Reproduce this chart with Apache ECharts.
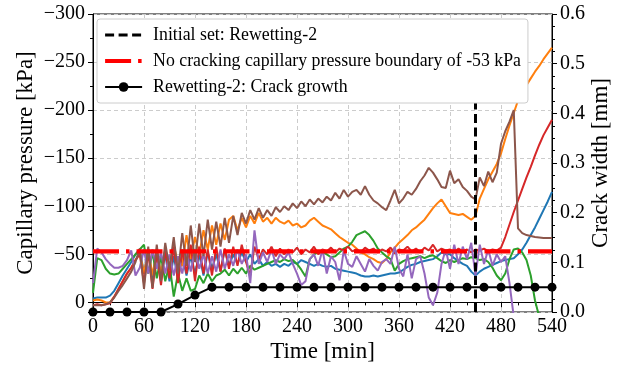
<!DOCTYPE html>
<html>
<head>
<meta charset="utf-8">
<script src="https://cdn.jsdelivr.net/npm/echarts@6/dist/echarts.min.js"></script>
<style>
  html, body { margin: 0; padding: 0; background: #fff; }
  #chart { width: 620px; height: 369px; }
</style>
</head>
<body>
<div id="chart"></div>
<script>
// sampling grid of the capillary pressure readings [min]
const timeMin = Array.from({ length: 109 }, (_, i) => i * 5)

// capillary pressure [kPa], one array per sensor (tab10 colour order)
const blue = [
  -4, -5, -5, -5, -7, -12, -20, -28, -35, -42,
  -50, -55, -30, -55, -25, -52, -28, -50, -22, -48,
  -25, -50, -28, -48, -30, -50, -28, -52, -35, -50,
  -32, -55, -38, -50, -40, -52, -42, -50, -40, -45,
  -38, -42, -38, -40, -37, -40, -38, -42, -40, -44,
  -42, -40, -38, -40, -38, -37, -38, -35, -34, -33,
  -32, -31, -30, -28, -27, -27, -28, -27, -28, -29,
  -30, -30, -31, -34, -37, -39, -40, -42, -43, -44,
  -45, -48, -52, -50, -50, -46, -43, -40, -38, -32,
  -28, -32, -35, -37, -39, -41, -43, -44, -45, -46,
  -50, -55, -62, -70, -78, -87, -96, -105, -115,
]
const orange = [
  -2, -3, -2, 0, 0, -6, -14, -22, -30, -36,
  -44, -52, -30, -55, -28, -55, -30, -56, -35, -60,
  -40, -38, -70, -45, -68, -50, -75, -55, -80, -60,
  -82, -65, -86, -90, -75, -88, -78, -90, -82, -93,
  -84, -88, -82, -88, -84, -82, -85, -80, -82, -78,
  -80, -85, -88, -84, -80, -78, -76, -72, -68, -65,
  -62, -60, -56, -52, -50, -47, -45, -42, -41, -45,
  -52, -57, -62, -66, -70, -75, -78, -82, -86, -92,
  -98, -103, -107, -100, -93, -92, -91, -92, -89, -86,
  -90, -108, -118, -128, -136, -144, -155, -170, -184, -197,
  -210, -218, -226, -233, -240, -246, -253, -259, -265,
]
const green = [
  -10, -46, -44, -35, -30, -29, -30, -35, -40, -45,
  -50, -55, -60, -30, -52, -25, -48, -22, -40, -6,
  -30, -12, -25, -12, -14, -28, -20, -30, -22, -28,
  -30, -34, -28, -35, -30, -36, -30, -38, -34, -36,
  -38, -40, -42, -44, -42, -45, -43, -44, -40, -34,
  -27, -45, -50, -52, -53, -50, -47, -48, -52, -56,
  -58, -63, -70, -72, -74, -70, -64, -56, -52, -48,
  -45, -33, -40, -43, -45, -46, -47, -48, -46, -48,
  -49, -46, -43, -41, -44, -42, -44, -46, -45, -47,
  -46, -44, -45, -42, -36, -28, -23, -30, -45, -55,
  -56, -52, -44, -28, -2, 15, null, null, null,
]
const red = [
  3, 2, 3, 2, 1, -6, -14, -22, -30, -36,
  -44, -50, -20, -52, -14, -50, -18, -55, -25, -58,
  -20, -55, -30, -60, -22, -58, -30, -55, -28, -58,
  -32, -56, -35, -58, -38, -60, -42, -28, -58, -45,
  -55, -50, -58, -48, -56, -50, -55, -52, -57, -50,
  -55, -52, -58, -50, -55, -53, -57, -52, -56, -54,
  -58, -53, -55, -52, -57, -54, -56, -52, -55, -53,
  -57, -51, -55, -54, -58, -53, -56, -52, -57, -54,
  -60, -53, -56, -54, -55, -52, -56, -53, -55, -52,
  -55, -54, -56, -53, -55, -54, -57, -68, -81, -94,
  -106, -118, -130, -141, -153, -164, -174, -182, -190,
]
const purple = [
  -20, -56, -52, -45, -40, -36, -36, -38, -44, -54,
  -28, -36, -55, -30, -55, -35, -52, -30, -50, -28,
  -48, -30, -52, -32, -55, -35, -50, -30, -48, -32,
  -55, -35, -50, -38, -55, -40, -50, -20, -75, -40,
  -52, -42, -55, -40, -50, -45, -52, -40, -30, -18,
  -22, -45, -50, -38, -55, -30, -48, -42, -23, -54,
  -40, -37, -48, -40, -32, -45, -38, -33, -42, -45,
  -40, -58, -35, -27, -50, -25, -45, -48, -30, -5,
  3, -10, -40, -55, -35, -60, -40, -58, -45, -62,
  -28, -60, -40, -55, -38, -50, -42, -48, -20, 15,
  null, null, null, null, null, null, null, null, null,
]
const brown = [
  3, 3, 3, 2, 0, -5, -12, -18, -25, -32,
  -42, -56, -14, -58, -15, -60, -22, -62, -35, -68,
  -30, -72, -38, -80, -42, -82, -48, -86, -55, -84,
  -58, -88, -62, -90, -70, -93, -82, -96, -86, -98,
  -88, -96, -90, -99, -94, -100, -96, -103, -98, -105,
  -100, -107, -102, -108, -104, -110, -106, -114, -108, -117,
  -110, -115, -117, -112, -121, -112, -106, -103, -99, -96,
  -106, -117, -103, -108, -115, -112, -118, -126, -132, -140,
  -135, -128, -120, -119, -137, -124, -128, -120, -116, -110,
  -107, -130, -121, -136, -125, -135, -165, -178, -188, -200,
  -77, -72, -70, -69, -68, -67.5, -67, -67, -67,
]

// crack width readings [mm], right axis
const crackTime = [0, 20, 40, 60, 80, 100, 120, 140, 160, 180, 200, 220, 240, 260,
  280, 300, 320, 340, 360, 380, 400, 420, 440, 460, 480, 500, 520, 540]
const crackWidth = [0, 0, 0, 0, 0, 0.016, 0.034, 0.05, 0.05, 0.05, 0.05, 0.05, 0.05, 0.05,
  0.05, 0.05, 0.05, 0.05, 0.05, 0.05, 0.05, 0.05, 0.05, 0.05, 0.05, 0.05, 0.05, 0.05]

const initialSetTime = 450
const initialSetTop = -215
const boundaryPressure = -53
const pMin = -300, pMax = 10
const tMin = 0, tMax = 540

const sensors = [
  { data: blue, color: '#1f77b4' },
  { data: orange, color: '#ff7f0e' },
  { data: green, color: '#2ca02c' },
  { data: red, color: '#d62728' },
  { data: purple, color: '#9467bd' },
  { data: brown, color: '#8c564b' },
]

const FONT = 'Liberation Serif'
const minus = v => (v < 0 ? '\u2212' + Math.abs(v) : String(v))
const noSymbol = { color: 'rgba(0,0,0,0)', borderWidth: 0 }

const chart = echarts.init(document.getElementById('chart'))

chart.setOption({
  animation: false,
  textStyle: { fontFamily: FONT, color: '#000' },
  grid: {
    left: 93, right: 68, top: 14, bottom: 57,
    show: true, borderColor: '#000', borderWidth: 1,
    outerBoundsMode: 'none',
  },
  legend: {
    data: [
      { name: 'Initial set: Rewetting-2', itemStyle: noSymbol },
      { name: 'No cracking capillary pressure boundary of -53 kPa', itemStyle: noSymbol },
      { name: 'Rewetting-2: Crack growth' },
    ],
    orient: 'vertical',
    left: 97, top: 19,
    itemWidth: 37, itemHeight: 12, itemGap: 8,
    padding: [7, 7, 7, 6],
    backgroundColor: '#fff',
    borderColor: '#cccccc', borderWidth: 1, borderRadius: 3,
    selectedMode: false,
    lineStyle: { width: 'inherit', type: 'inherit' },
    textStyle: { fontFamily: FONT, fontSize: 17.8, color: '#000', lineHeight: 16.5, padding: [0, 0, 0, 6] },
  },
  xAxis: {
    type: 'value', min: tMin, max: tMax, interval: 60,
    name: 'Time [min]', nameLocation: 'middle', nameGap: 28, nameMoveOverlap: false,
    nameTextStyle: { fontFamily: FONT, fontSize: 23, color: '#000' },
    axisLine: { show: true, lineStyle: { color: '#000', width: 1 } },
    axisTick: { show: true, length: 5, lineStyle: { color: '#000' } },
    minorTick: { show: true, splitNumber: 3, length: 3, lineStyle: { color: '#000' } },
    axisLabel: { fontFamily: FONT, fontSize: 20, color: '#000', margin: 5 },
    splitLine: { show: true, lineStyle: { color: '#cccccc', type: [4, 3] } },
  },
  yAxis: [
    {
      type: 'value', inverse: true, min: pMin, max: pMax, interval: 50,
      position: 'left',
      name: 'Capillary pressure [kPa]', nameLocation: 'middle', nameGap: 56, nameRotate: 90,
      nameMoveOverlap: false,
      nameTextStyle: { fontFamily: FONT, fontSize: 23, color: '#000' },
      axisLine: { show: true, lineStyle: { color: '#000', width: 1 } },
      axisTick: { show: true, length: 5, lineStyle: { color: '#000' } },
      minorTick: { show: true, splitNumber: 2, length: 3, lineStyle: { color: '#000' } },
      axisLabel: { fontFamily: FONT, fontSize: 20, color: '#000', margin: 8, showMaxLabel: false, formatter: minus },
      splitLine: { show: true, lineStyle: { color: '#cccccc', type: [4, 3] } },
    },
    {
      type: 'value', min: 0, max: 0.6, interval: 0.1,
      position: 'right',
      name: 'Crack width [mm]', nameLocation: 'middle', nameGap: 37, nameRotate: 90,
      nameMoveOverlap: false,
      nameTextStyle: { fontFamily: FONT, fontSize: 23, color: '#000' },
      axisLine: { show: true, lineStyle: { color: '#000', width: 1 } },
      axisTick: { show: true, length: 5, lineStyle: { color: '#000' } },
      minorTick: { show: true, splitNumber: 4, length: 3, lineStyle: { color: '#000' } },
      axisLabel: { fontFamily: FONT, fontSize: 20, color: '#000', margin: 8, formatter: v => v.toFixed(1) },
      splitLine: { show: false },
    },
  ],
  series: [
    ...sensors.map(s => ({
      type: 'line',
      yAxisIndex: 0,
      data: timeMin.map((t, i) => [t, s.data[i]]),
      symbol: 'none',
      lineStyle: { color: s.color, width: 2 },
      itemStyle: { color: s.color },
      silent: true,
    })),
    {
      name: 'No cracking capillary pressure boundary of -53 kPa',
      type: 'line',
      yAxisIndex: 0,
      data: [[tMin, boundaryPressure], [tMax, boundaryPressure]],
      symbol: 'none',
      lineStyle: { color: '#ff0000', width: 4.2, type: [26, 7, 3.5, 7] },
      itemStyle: { color: '#ff0000' },
      silent: true,
    },
    {
      name: 'Initial set: Rewetting-2',
      type: 'line',
      yAxisIndex: 0,
      data: [[initialSetTime, pMax], [initialSetTime, initialSetTop]],
      symbol: 'none',
      lineStyle: { color: '#000', width: 3, type: [9, 4.5] },
      itemStyle: { color: '#000' },
      silent: true,
    },
    {
      name: 'Rewetting-2: Crack growth',
      type: 'line',
      yAxisIndex: 1,
      data: crackTime.map((t, i) => [t, crackWidth[i]]),
      symbol: 'circle',
      symbolSize: 9,
      lineStyle: { color: '#000', width: 2 },
      itemStyle: { color: '#000' },
      silent: true,
    },
  ],
})
</script>
</body>
</html>
